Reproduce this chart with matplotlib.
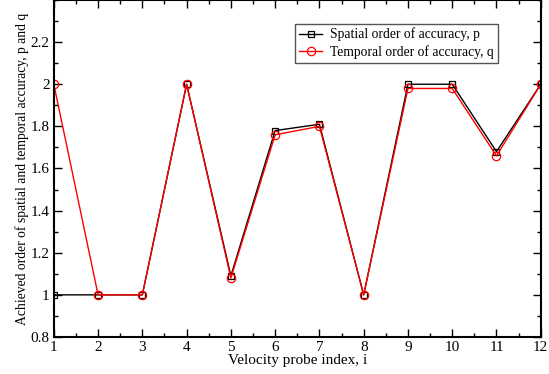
import matplotlib
matplotlib.use("Agg")
import matplotlib.pyplot as plt
from matplotlib.ticker import MultipleLocator

# ── Data ──────────────────────────────────────────────────────────
probe_index = [1, 2, 3, 4, 5, 6, 7, 8, 9, 10, 11, 12]
spatial_p   = [1.0, 1.0, 1.0, 2.0, 1.09, 1.78, 1.81, 1.0, 2.0, 2.0, 1.68, 2.0]
temporal_q  = [2.0, 1.0, 1.0, 2.0, 1.08, 1.76, 1.80, 1.0, 1.98, 1.98, 1.66, 2.0]

plt.rcParams["font.family"] = ["Liberation Serif", "DejaVu Serif"]

fig = plt.figure(figsize=(5.49, 3.74), dpi=100)
ax = fig.add_axes([0.098, 0.099, 0.887, 0.901])

ax.plot(probe_index, spatial_p, color="black", linewidth=1.0, marker="s",
        markersize=5, markerfacecolor="none", markeredgecolor="black",
        markeredgewidth=0.9, label="Spatial order of accuracy, p")
ax.plot(probe_index, temporal_q, color="red", linewidth=1.0, marker="o",
        markersize=6, markerfacecolor="none", markeredgecolor="red",
        markeredgewidth=0.9, label="Temporal order of accuracy, q")

ax.set_xlim(1, 12)
ax.set_ylim(0.8, 2.4)
ax.xaxis.set_major_locator(MultipleLocator(1))
ax.xaxis.set_minor_locator(MultipleLocator(0.5))
ax.yaxis.set_major_locator(MultipleLocator(0.2))
ax.yaxis.set_minor_locator(MultipleLocator(0.1))
ax.set_yticks([0.8, 1.0, 1.2, 1.4, 1.6, 1.8, 2.0, 2.2])
ax.set_yticklabels(["0.8", "1", "1.2", "1.4", "1.6", "1.8", "2", "2.2"])

ax.tick_params(which="both", direction="in", top=True, right=True,
               labelsize=11, pad=3)
ax.tick_params(which="major", length=6, width=1)
ax.tick_params(which="minor", length=3, width=1)
for s in ax.spines.values():
    s.set_linewidth(1.5)

ax.set_xlabel("Velocity probe index, i", fontsize=11, labelpad=0)
ax.set_ylabel("Achieved order of spatial and temporal accuracy, p and q",
              fontsize=9.8, labelpad=1)

leg = ax.legend(loc="upper left", bbox_to_anchor=(0.495, 0.93), fontsize=9.8,
                fancybox=False, framealpha=1, edgecolor="#555555",
                handlelength=1.7, borderpad=0.3, labelspacing=0.25,
                handletextpad=0.6, borderaxespad=0)
leg.get_frame().set_linewidth(1.0)

fig.savefig("out.png", dpi=100)
